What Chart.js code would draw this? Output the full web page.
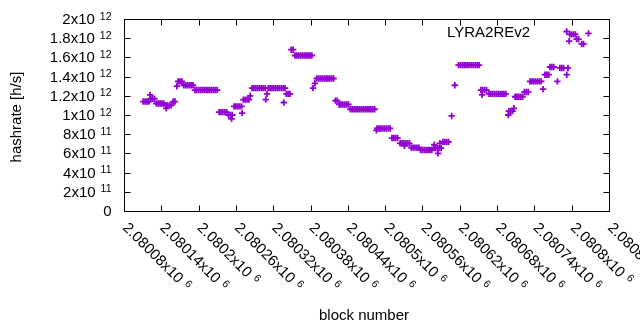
<!DOCTYPE html>
<html>
<head>
<meta charset="utf-8">
<script src="https://cdn.jsdelivr.net/npm/chart.js@4.4.0/dist/chart.umd.min.js"></script>
<style>
  html, body { margin: 0; padding: 0; background: #fff; }
  #wrap { width: 640px; height: 330px; }
</style>
</head>
<body>
<div id="wrap"><canvas id="hashChart" width="640" height="330"></canvas></div>
<script>
// block numbers and hashrate (in units of 10^12 h/s)
const blocks = [
  2080111, 2080114, 2080117, 2080120,
  2080122,
  2080123, 2080126, 2080129,
  2080132, 2080135, 2080138, 2080141, 2080144,
  2080147, 2080150, 2080153, 2080156,
  2080148,
  2080159, 2080162,
  2080165,
  2080167, 2080170, 2080173,
  2080176, 2080179, 2080182, 2080185, 2080188, 2080191,
  2080194, 2080197, 2080200, 2080203, 2080206, 2080209, 2080212,
  2080215, 2080218, 2080221, 2080224, 2080227, 2080230,
  2080233, 2080236, 2080239, 2080242, 2080245,
  2080248, 2080251, 2080254, 2080253,
  2080257, 2080260, 2080263, 2080266, 2080269, 2080270,
  2080272, 2080275, 2080278, 2080281, 2080283,
  2080286, 2080289, 2080292, 2080295, 2080298, 2080301, 2080304, 2080307,
  2080308, 2080310,
  2080312, 2080315, 2080318, 2080321, 2080324,
  2080327, 2080330, 2080333, 2080336, 2080339,
  2080337, 2080341, 2080344, 2080347,
  2080349, 2080352,
  2080355, 2080358, 2080361, 2080364, 2080367,
  2080370, 2080373, 2080376, 2080379, 2080382,
  2080384, 2080387,
  2080390, 2080393, 2080396, 2080399, 2080402,
  2080405, 2080408, 2080411, 2080414, 2080417,
  2080420, 2080423,
  2080426, 2080429, 2080432, 2080435, 2080438, 2080441,
  2080444, 2080447, 2080450, 2080453, 2080456, 2080459, 2080462,
  2080465, 2080468, 2080471, 2080474, 2080477, 2080480, 2080483,
  2080486, 2080487, 2080490, 2080493, 2080496,
  2080499, 2080502, 2080505, 2080508,
  2080511, 2080514, 2080517, 2080520,
  2080524, 2080527, 2080530, 2080533, 2080536, 2080539, 2080531,
  2080542, 2080545, 2080548, 2080551, 2080554,
  2080557, 2080560, 2080563, 2080566, 2080569, 2080572, 2080575,
  2080578, 2080581, 2080584, 2080587, 2080590,
  2080579, 2080585, 2080588,
  2080593, 2080596, 2080599, 2080602,
  2080607, 2080612,
  2080618, 2080621, 2080624, 2080627, 2080630, 2080633,
  2080636, 2080639, 2080642, 2080645, 2080648, 2080651,
  2080654, 2080656, 2080657, 2080660, 2080663,
  2080667, 2080670, 2080673, 2080676, 2080679,
  2080682, 2080685, 2080688, 2080691, 2080694,
  2080698, 2080699, 2080702, 2080705, 2080707,
  2080709, 2080712, 2080715, 2080718, 2080721,
  2080724, 2080727, 2080730,
  2080733, 2080736, 2080739, 2080742, 2080745, 2080748, 2080751,
  2080754, 2080757, 2080760, 2080763,
  2080765, 2080768, 2080771, 2080777,
  2080781, 2080784, 2080787, 2080792, 2080794,
  2080792, 2080796,
  2080797, 2080800, 2080803, 2080806,
  2080808, 2080811, 2080816, 2080819, 2080827
];
const hashrate = [
  1.14, 1.14, 1.14, 1.14,
  1.21,
  1.17, 1.17, 1.17,
  1.12, 1.12, 1.12, 1.12, 1.12,
  1.10, 1.10, 1.10, 1.10,
  1.07,
  1.14, 1.14,
  1.30,
  1.35, 1.35, 1.35,
  1.31, 1.31, 1.31, 1.31, 1.31, 1.31,
  1.26, 1.26, 1.26, 1.26, 1.26, 1.26, 1.26,
  1.26, 1.26, 1.26, 1.26, 1.26, 1.26,
  1.03, 1.03, 1.03, 1.03, 1.03,
  1.00, 1.00, 1.00, 0.96,
  1.09, 1.09, 1.09, 1.09, 1.09, 1.02,
  1.16, 1.16, 1.16, 1.16, 1.20,
  1.28, 1.28, 1.28, 1.28, 1.28, 1.28, 1.28, 1.28,
  1.16, 1.22,
  1.28, 1.28, 1.28, 1.28, 1.28,
  1.28, 1.28, 1.28, 1.28, 1.28,
  1.13, 1.22, 1.22, 1.22,
  1.68, 1.68,
  1.62, 1.62, 1.62, 1.62, 1.62,
  1.62, 1.62, 1.62, 1.62, 1.62,
  1.28, 1.33,
  1.38, 1.38, 1.38, 1.38, 1.38,
  1.38, 1.38, 1.38, 1.38, 1.38,
  1.15, 1.15,
  1.11, 1.11, 1.11, 1.11, 1.11, 1.11,
  1.06, 1.06, 1.06, 1.06, 1.06, 1.06, 1.06,
  1.06, 1.06, 1.06, 1.06, 1.06, 1.06, 1.06,
  0.84, 0.86, 0.86, 0.86, 0.86,
  0.86, 0.86, 0.86, 0.86,
  0.76, 0.76, 0.76, 0.76,
  0.705, 0.705, 0.705, 0.705, 0.705, 0.705, 0.68,
  0.66, 0.66, 0.66, 0.66, 0.66,
  0.635, 0.635, 0.635, 0.635, 0.635, 0.635, 0.635,
  0.655, 0.655, 0.655, 0.655, 0.655,
  0.69, 0.60, 0.705,
  0.72, 0.72, 0.72, 0.72,
  0.99, 1.31,
  1.52, 1.52, 1.52, 1.52, 1.52, 1.52,
  1.52, 1.52, 1.52, 1.52, 1.52, 1.52,
  1.26, 1.21, 1.26, 1.26, 1.26,
  1.22, 1.22, 1.22, 1.22, 1.22,
  1.22, 1.22, 1.22, 1.22, 1.22,
  1.00, 1.04, 1.04, 1.04, 1.07,
  1.19, 1.19, 1.19, 1.19, 1.19,
  1.24, 1.24, 1.24,
  1.35, 1.35, 1.35, 1.35, 1.35, 1.35, 1.35,
  1.27, 1.42, 1.42, 1.42,
  1.50, 1.50, 1.50, 1.35,
  1.49, 1.49, 1.49, 1.42, 1.49,
  1.87, 1.77,
  1.84, 1.84, 1.84, 1.84,
  1.79, 1.79, 1.74, 1.74, 1.85
];

const xTicks = [2080080, 2080140, 2080200, 2080260, 2080320, 2080380, 2080440,
                2080500, 2080560, 2080620, 2080680, 2080740, 2080800, 2080860];
const xTickLabels = ['2.08008x10^6', '2.08014x10^6', '2.0802x10^6', '2.08026x10^6',
                     '2.08032x10^6', '2.08038x10^6', '2.08044x10^6', '2.0805x10^6',
                     '2.08056x10^6', '2.08062x10^6', '2.08068x10^6', '2.08074x10^6',
                     '2.0808x10^6', '2.08086x10^6'];
const yTicks = [0, 2e11, 4e11, 6e11, 8e11, 1e12, 1.2e12, 1.4e12, 1.6e12, 1.8e12, 2e12];
const yTickLabels = ['0', '2x10^11', '4x10^11', '6x10^11', '8x10^11', '1x10^12',
                     '1.2x10^12', '1.4x10^12', '1.6x10^12', '1.8x10^12', '2x10^12'];

const FONT = '"Liberation Sans", Arial, sans-serif';
const PURPLE = '#9400d3';

// text like "2x10^12" -> mantissa + raised exponent
function supWidth(ctx, label) {
  const [m, e] = label.split('^');
  ctx.font = '15px ' + FONT;
  let w = ctx.measureText(m).width;
  if (e) {
    ctx.font = '10.5px ' + FONT;
    w += 5 + ctx.measureText(e).width;
  }
  return w;
}
function drawSup(ctx, label, x, y) {
  const [m, e] = label.split('^');
  ctx.font = '15px ' + FONT;
  ctx.fillText(m, x, y);
  if (e) {
    const w = ctx.measureText(m).width;
    ctx.font = '10.5px ' + FONT;
    ctx.fillText(e, x + w + 5, y - 4.5);
  }
}

const gnuplotFrame = {
  id: 'gnuplotFrame',
  afterDraw(chart) {
    const {ctx, chartArea: a, scales} = chart;
    const L = Math.round(a.left) + 0.5, R = Math.round(a.right) + 0.5;
    const T = Math.round(a.top) + 0.5, B = Math.round(a.bottom) + 0.5;
    ctx.save();
    ctx.strokeStyle = '#000';
    ctx.lineWidth = 1;
    ctx.strokeRect(L, T, R - L, B - T);
    ctx.beginPath();
    yTicks.forEach(v => {
      const y = Math.round(scales.y.getPixelForValue(v)) + 0.5;
      ctx.moveTo(L, y); ctx.lineTo(L + 6, y);
      ctx.moveTo(R, y); ctx.lineTo(R - 6, y);
    });
    xTicks.forEach(v => {
      const x = Math.round(scales.x.getPixelForValue(v)) + 0.5;
      ctx.moveTo(x, B); ctx.lineTo(x, B - 6);
      ctx.moveTo(x, T); ctx.lineTo(x, T + 6);
    });
    ctx.stroke();

    ctx.fillStyle = '#000';
    ctx.textBaseline = 'alphabetic';
    ctx.textAlign = 'left';
    // y tick labels, right aligned
    yTicks.forEach((v, i) => {
      const y = scales.y.getPixelForValue(v);
      const w = supWidth(ctx, yTickLabels[i]);
      drawSup(ctx, yTickLabels[i], a.left - 12.5 - w, y + 5);
    });
    // x tick labels, rotated 45 degrees
    xTicks.forEach((v, i) => {
      const x = scales.x.getPixelForValue(v);
      ctx.save();
      ctx.translate(x - 2, B + 17);
      ctx.rotate(Math.PI / 4);
      drawSup(ctx, xTickLabels[i], 0, 0);
      ctx.restore();
    });

    // axis titles and key
    ctx.font = '15px ' + FONT;
    ctx.textAlign = 'center';
    ctx.textBaseline = 'middle';
    ctx.fillText('block number', 364, 316);
    ctx.save();
    ctx.translate(17, 117);
    ctx.rotate(-Math.PI / 2);
    ctx.fillText('hashrate [h/s]', 0, 0);
    ctx.restore();
    ctx.textAlign = 'left';
    ctx.textBaseline = 'alphabetic';
    ctx.fillText('LYRA2REv2', 447, 37);
    ctx.restore();
  }
};

const points = blocks.map((b, i) => ({x: b, y: hashrate[i] * 1e12}));

new Chart(document.getElementById('hashChart'), {
  type: 'scatter',
  data: {
    datasets: [{
      label: 'LYRA2REv2',
      data: points,
      pointStyle: 'cross',
      pointRadius: 3.2,
      pointHoverRadius: 3.2,
      borderWidth: 1.8,
      borderColor: PURPLE,
      backgroundColor: PURPLE
    }]
  },
  options: {
    responsive: false,
    animation: false,
    layout: {padding: {left: 124, right: 31, top: 19, bottom: 119}},
    scales: {
      x: {type: 'linear', display: false, min: 2080080, max: 2080860},
      y: {type: 'linear', display: false, min: 0, max: 2e12}
    },
    plugins: {
      legend: {display: false},
      tooltip: {enabled: false}
    }
  },
  plugins: [gnuplotFrame]
});
</script>
</body>
</html>
